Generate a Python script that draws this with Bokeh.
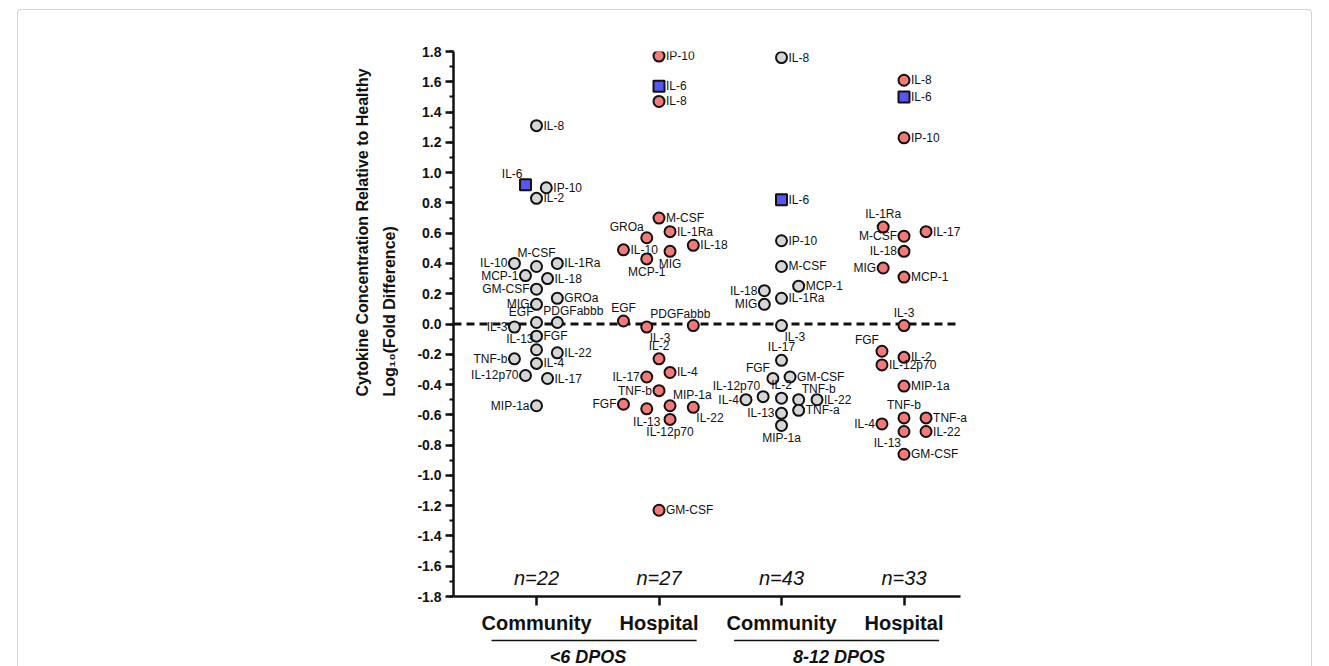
from bokeh.plotting import figure
from bokeh.models import (ColumnDataSource, Title, FixedTicker, PrintfTickFormatter,
                          InlineStyleSheet)
from bokeh.core.properties import value
from bokeh.embed import file_html
from bokeh.resources import INLINE

# ---------------- data ----------------
categories = ["Community", "Hospital", "Community", "Hospital"]
groups = ["<6 DPOS", "8-12 DPOS"]
n_labels = ["n=22", "n=27", "n=43", "n=33"]

# <6 DPOS, Community
c1_names = ["IL-8", "IL-6", "IP-10", "IL-2", "IL-10", "M-CSF", "IL-1Ra", "MCP-1", "IL-18",
            "GM-CSF", "GROa", "MIG", "EGF", "PDGFabbb", "IL-3", "FGF", "IL-13", "IL-22",
            "TNF-b", "IL-4", "IL-12p70", "IL-17", "MIP-1a"]
c1_values = [1.31, 0.92, 0.90, 0.83, 0.40, 0.38, 0.40, 0.32, 0.30,
             0.23, 0.17, 0.13, 0.01, 0.01, -0.02, -0.08, -0.17, -0.19,
             -0.23, -0.26, -0.34, -0.36, -0.54]
c1_jitter = [0, -0.09, 0.08, 0, -0.18, 0, 0.17, -0.09, 0.09,
             0, 0.17, 0, 0, 0.17, -0.18, 0, 0, 0.17,
             -0.18, 0, -0.09, 0.09, 0]
c1_place = ["r", "tl", "r", "r", "l", "t", "r", "l", "r",
            "l", "r", "l", "tl", "tR", "l", "r", "tl", "r",
            "l", "r", "l", "r", "l"]

# <6 DPOS, Hospital
c2_names = ["IP-10", "IL-6", "IL-8", "M-CSF", "GROa", "IL-1Ra", "IL-18", "IL-10", "MIG",
            "MCP-1", "EGF", "IL-3", "PDGFabbb", "IL-2", "IL-4", "IL-17", "TNF-b", "FGF",
            "IL-13", "MIP-1a", "IL-22", "IL-12p70", "GM-CSF"]
c2_values = [1.77, 1.57, 1.47, 0.70, 0.57, 0.61, 0.52, 0.49, 0.48,
             0.43, 0.02, -0.02, -0.01, -0.23, -0.32, -0.35, -0.44, -0.53,
             -0.56, -0.54, -0.55, -0.63, -1.23]
c2_jitter = [0, 0, 0, 0, -0.10, 0.09, 0.28, -0.29, 0.09,
             -0.10, -0.29, -0.10, 0.28, 0, 0.09, -0.10, 0, -0.29,
             -0.10, 0.09, 0.28, 0.09, 0]
c2_place = ["r", "r", "r", "r", "tl", "r", "r", "r", "b",
            "b", "t", "br", "tL", "t", "r", "l", "l", "l",
            "b", "tr", "br", "b", "r"]

# 8-12 DPOS, Community
c3_names = ["IL-8", "IL-6", "IP-10", "M-CSF", "IL-18", "MCP-1", "MIG", "IL-1Ra", "IL-3",
            "IL-17", "GM-CSF", "FGF", "IL-12p70", "IL-2", "TNF-b", "IL-22", "IL-4", "IL-13",
            "TNF-a", "MIP-1a"]
c3_values = [1.76, 0.82, 0.55, 0.38, 0.22, 0.25, 0.13, 0.17, -0.01,
             -0.24, -0.35, -0.36, -0.48, -0.49, -0.50, -0.50, -0.50, -0.59,
             -0.57, -0.67]
c3_jitter = [0, 0, 0, 0, -0.14, 0.14, -0.14, 0, 0,
             0, 0.07, -0.07, -0.15, 0, 0.14, 0.29, -0.29, 0,
             0.14, 0]
c3_place = ["r", "r", "r", "r", "l", "r", "l", "r", "br",
            "t", "r", "tl", "tl", "t", "tr", "r", "l", "l",
            "r", "b"]

# 8-12 DPOS, Hospital
c4_names = ["IL-8", "IL-6", "IP-10", "IL-1Ra", "IL-17", "M-CSF", "IL-18", "MIG", "MCP-1",
            "IL-3", "FGF", "IL-2", "IL-12p70", "MIP-1a", "TNF-b", "TNF-a", "IL-4", "IL-13",
            "IL-22", "GM-CSF"]
c4_values = [1.61, 1.50, 1.23, 0.64, 0.61, 0.58, 0.48, 0.37, 0.31,
             -0.01, -0.18, -0.22, -0.27, -0.41, -0.62, -0.62, -0.66, -0.71,
             -0.71, -0.86]
c4_jitter = [0, 0, 0, -0.17, 0.18, 0, 0, -0.17, 0,
             0, -0.18, 0, -0.18, 0, 0, 0.18, -0.18, 0,
             0.18, 0]
c4_place = ["r", "r", "r", "t", "r", "l", "l", "l", "r",
            "t", "tl", "r", "r", "r", "t", "r", "l", "bl",
            "r", "r"]

columns = [
    (c1_names, c1_values, c1_jitter, c1_place, "#d6d6d6"),
    (c2_names, c2_values, c2_jitter, c2_place, "#f47a7a"),
    (c3_names, c3_values, c3_jitter, c3_place, "#d6d6d6"),
    (c4_names, c4_values, c4_jitter, c4_place, "#f47a7a"),
]
SQUARE_NAME = "IL-6"
SQUARE_COLOR = "#5656f2"

# ---------------- figure ----------------
FONT = "Liberation Sans"
TXT = "#111111"
PX_PER_CAT = 122.5
PX_PER_UNIT = 151.4
W, H = 1329, 666
FRAME_LEFT = 453
AXIS_W = 507          # drawn length of the x axis
FRAME_W = 545         # frame a bit wider so point labels are not clipped
FRAME_TOP = 51
frame_h = H - FRAME_TOP
x_start = 1 - 83 / PX_PER_CAT
x_axis_end = x_start + AXIS_W / PX_PER_CAT
x_end = x_start + FRAME_W / PX_PER_CAT
y_end = 1.8
y_start = y_end - frame_h / PX_PER_UNIT

p = figure(width=W, height=H, output_backend="svg", toolbar_location=None,
           x_range=(x_start, x_end), y_range=(y_start, y_end),
           min_border_left=FRAME_LEFT, min_border_right=W - FRAME_LEFT - FRAME_W,
           min_border_top=FRAME_TOP, min_border_bottom=0, title=None)
p.outline_line_color = None
p.xgrid.visible = False
p.ygrid.visible = False
p.background_fill_color = "white"
p.border_fill_color = "white"
p.stylesheets = [InlineStyleSheet(css=(
    ":host::after { content: ''; position: absolute; left: 17px; right: 17px; top: 9px;"
    " bottom: 0px; border: 1px solid #d4d4d4; border-bottom: none;"
    " border-radius: 4px 4px 0 0; pointer-events: none; }"))]

# y axis
yticks = [round(-1.8 + 0.2 * i, 1) + 0.0 for i in range(19)]
yminor = [round(-1.8 + 0.1 * i, 2) + 0.0 for i in range(37)]
ya = p.yaxis[0]
ya.ticker = FixedTicker(ticks=yticks, minor_ticks=yminor)
ya.formatter = PrintfTickFormatter(format="%.1f")
ya.bounds = (-1.8, 1.8)
ya.axis_line_width = 2.5
ya.axis_line_color = TXT
ya.major_tick_line_width = 2.5
ya.major_tick_line_color = TXT
ya.major_tick_out = 8
ya.major_tick_in = 0
ya.minor_tick_line_width = 2
ya.minor_tick_line_color = TXT
ya.minor_tick_out = 4
ya.minor_tick_in = 0
ya.major_label_text_font = FONT
ya.major_label_text_font_style = "bold"
ya.major_label_text_font_size = "14px"
ya.major_label_text_color = TXT
ya.major_label_standoff = 4

# x axis at y = -1.8
xa = p.xaxis[0]
xa.fixed_location = -1.8
xa.bounds = (x_start, x_axis_end)
xa.ticker = FixedTicker(ticks=[1, 2, 3, 4], minor_ticks=[])
xa.major_label_overrides = {i + 1: c for i, c in enumerate(categories)}
xa.axis_line_width = 2.5
xa.axis_line_color = TXT
xa.major_tick_line_width = 2.5
xa.major_tick_line_color = TXT
xa.major_tick_out = 9
xa.major_tick_in = 0
xa.minor_tick_line_color = None
xa.major_label_text_font = FONT
xa.major_label_text_font_style = "bold"
xa.major_label_text_font_size = "20px"
xa.major_label_text_color = TXT
xa.major_label_standoff = 6

# zero reference line (dashed), same length as the x axis
p.segment(x0=[x_start], y0=[0], x1=[x_axis_end], y1=[0], line_color=TXT,
          line_width=3, line_dash="8 5")

# points and labels
place_map = {
    "r": (7, 0, "left", "middle"),
    "l": (-7, 0, "right", "middle"),
    "t": (0, -6, "center", "bottom"),
    "b": (0, 6, "center", "top"),
    "tl": (-3, -4, "right", "bottom"),
    "tr": (3, -4, "left", "bottom"),
    "tR": (16, -5, "center", "bottom"),
    "tL": (-13, -5, "center", "bottom"),
    "bl": (-3, 4, "right", "top"),
    "br": (3, 4, "left", "top"),
}

for ci, (names, vals, jit, place, color) in enumerate(columns):
    xs = [ci + 1 + j for j in jit]
    circ = [i for i, n in enumerate(names) if n != SQUARE_NAME]
    sq = [i for i, n in enumerate(names) if n == SQUARE_NAME]
    src_c = ColumnDataSource(dict(x=[xs[i] for i in circ], y=[vals[i] for i in circ]))
    p.scatter("x", "y", source=src_c, marker="circle", size=11, fill_color=color,
              line_color=TXT, line_width=2)
    if sq:
        src_s = ColumnDataSource(dict(x=[xs[i] for i in sq], y=[vals[i] for i in sq]))
        p.scatter("x", "y", source=src_s, marker="square", size=11, fill_color=SQUARE_COLOR,
                  line_color=TXT, line_width=2)
    for code, (dx, dy, al, bl) in place_map.items():
        idx = [i for i, c in enumerate(place) if c == code]
        if not idx:
            continue
        src_t = ColumnDataSource(dict(x=[xs[i] for i in idx], y=[vals[i] for i in idx],
                                      t=[names[i] for i in idx]))
        p.text("x", "y", text="t", source=src_t, x_offset=dx, y_offset=dy,
               text_align=al, text_baseline=bl, text_font=value(FONT),
               text_font_size="12px", text_color=TXT)

# n= labels
src_n = ColumnDataSource(dict(x=[1, 2, 3, 4], y=[-1.68] * 4, t=n_labels))
p.text("x", "y", text="t", source=src_n, text_align="center", text_baseline="middle",
       text_font=value(FONT), text_font_size="20px", text_font_style="italic",
       text_color=TXT)

# group underlines and labels
g_line_centers = [1.47, 3.45]
g_half = 0.837
g_label_x = [1.42, 3.47]
p.segment(x0=[c - g_half for c in g_line_centers], y0=[-2.09] * 2,
          x1=[c + g_half for c in g_line_centers], y1=[-2.09] * 2,
          line_color=TXT, line_width=1.5)
src_g = ColumnDataSource(dict(x=g_label_x, y=[-2.135] * 2, t=groups))
p.text("x", "y", text="t", source=src_g, text_align="center", text_baseline="top",
       text_font=value(FONT), text_font_size="18px", text_font_style="bold italic",
       text_color=TXT)

# y axis title (two lines)
ytitle = Title(text="Cytokine Concentration Relative to Healthy\nLog\u2081\u2080(Fold Difference)",
               align="left", offset=H - 396, standoff=32, text_font=FONT,
               text_font_size="16px", text_font_style="bold", text_color=TXT)
try:
    ytitle.text_line_height = 1.6
except Exception:
    pass
p.add_layout(ytitle, "left")

open("out.html", "w").write(file_html(p, INLINE))
